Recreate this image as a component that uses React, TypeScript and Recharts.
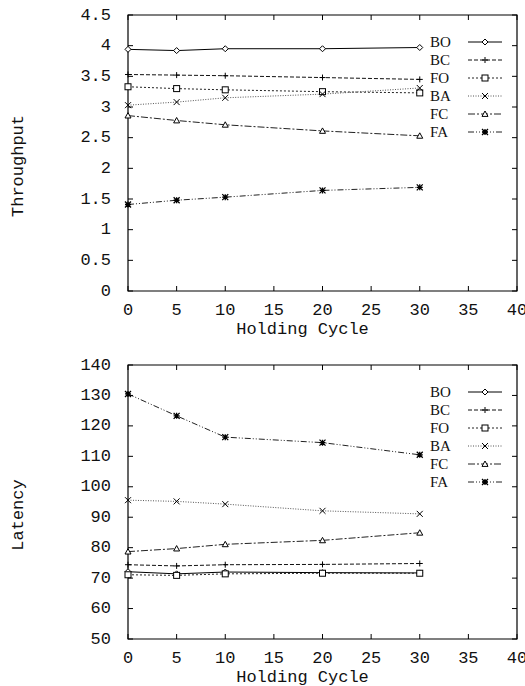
import React from "react";
import { LineChart, Line, XAxis, YAxis, Legend, ReferenceArea, Label } from "recharts";

// x positions (holding cycle) shared by both panels
const holdingCycle = [0, 5, 10, 20, 30];
const cycleTicks = [0, 5, 10, 15, 20, 25, 30, 35, 40];

// throughput per scheme
const throughputBO = [3.94, 3.92, 3.95, 3.95, 3.97];
const throughputBC = [3.53, 3.52, 3.51, 3.48, 3.45];
const throughputFO = [3.33, 3.3, 3.28, 3.25, 3.23];
const throughputBA = [3.03, 3.08, 3.15, 3.21, 3.31];
const throughputFC = [2.86, 2.78, 2.71, 2.61, 2.53];
const throughputFA = [1.41, 1.48, 1.53, 1.64, 1.69];
const throughputTicks = [0, 0.5, 1, 1.5, 2, 2.5, 3, 3.5, 4, 4.5];

// latency per scheme
const latencyBO = [72.1, 71.4, 72.0, 71.8, 71.7];
const latencyBC = [74.4, 74.0, 74.4, 74.5, 74.8];
const latencyFO = [71.1, 70.9, 71.4, 71.6, 71.6];
const latencyBA = [95.6, 95.2, 94.3, 92.1, 91.1];
const latencyFC = [78.7, 79.7, 81.1, 82.4, 84.9];
const latencyFA = [130.5, 123.3, 116.3, 114.5, 110.5];
const latencyTicks = [50, 60, 70, 80, 90, 100, 110, 120, 130, 140];

const schemes = ["BO", "BC", "FO", "BA", "FC", "FA"];

const toRows = (series: number[][]) =>
  holdingCycle.map((cycle, i) => {
    const row: Record<string, number> = { cycle };
    schemes.forEach((s, k) => (row[s] = series[k][i]));
    return row;
  });

const throughputRows = toRows([throughputBO, throughputBC, throughputFO, throughputBA, throughputFC, throughputFA]);
const latencyRows = toRows([latencyBO, latencyBC, latencyFO, latencyBA, latencyFC, latencyFA]);

// gnuplot-like line types / point types
const STYLE: Record<string, { dash?: string; marker: string; color: string }> = {
  BO: { marker: "diamond", color: "#000" },
  BC: { dash: "4 2", marker: "plus", color: "#111" },
  FO: { dash: "2 2", marker: "square", color: "#222" },
  BA: { dash: "1 1.5", marker: "cross", color: "#555" },
  FC: { dash: "7 2 2 2", marker: "triangle", color: "#222" },
  FA: { dash: "6 2 1 2 1 2", marker: "star", color: "#222" },
};

const MONO = "'Liberation Mono', 'DejaVu Sans Mono', monospace";
const FS = 17;
const WIDTH = 525;
const PLOT_LEFT = 128;
const PLOT_RIGHT = 517;
const TICK = 5;

function Marker({ shape, cx, cy }: { shape: string; cx: number; cy: number }) {
  const s = 3;
  const p = { stroke: "#000", strokeWidth: 1, fill: "none" };
  switch (shape) {
    case "diamond":
      return <path d={`M${cx},${cy - s} L${cx + s},${cy} L${cx},${cy + s} L${cx - s},${cy} Z`} {...p} fill="#fff" />;
    case "plus":
      return <path d={`M${cx - s},${cy} H${cx + s} M${cx},${cy - s} V${cy + s}`} {...p} />;
    case "square":
      return <rect x={cx - s} y={cy - s} width={2 * s} height={2 * s} {...p} fill="#fff" />;
    case "cross":
      return <path d={`M${cx - s},${cy - s} L${cx + s},${cy + s} M${cx - s},${cy + s} L${cx + s},${cy - s}`} {...p} />;
    case "triangle":
      return <path d={`M${cx},${cy - s} L${cx + s},${cy + s * 0.8} L${cx - s},${cy + s * 0.8} Z`} {...p} fill="#fff" />;
    default:
      return (
        <path
          d={`M${cx - s},${cy} H${cx + s} M${cx},${cy - s} V${cy + s} M${cx - s},${cy - s} L${cx + s},${cy + s} M${cx - s},${cy + s} L${cx + s},${cy - s}`}
          {...p}
          strokeWidth={1.3}
        />
      );
  }
}

// key drawn in plotting order, not alphabetical
function KeyBox({ payload }: any) {
  const items = (payload || [])
    .filter((e: any) => STYLE[e.value])
    .sort((a: any, b: any) => schemes.indexOf(a.value) - schemes.indexOf(b.value));
  return (
    <svg width={95} height={110} style={{ display: "block" }}>
      {items.map((e: any, i: number) => {
        const y = 9 + i * 18;
        const st = STYLE[e.value];
        return (
          <g key={e.value}>
            <text x={5} y={y} dominantBaseline="central" style={{ fontFamily: "'Liberation Serif', serif", fontSize: 15 }} fill="#111">
              {e.value}
            </text>
            <line x1={43} x2={77} y1={y} y2={y} stroke={st.color} strokeDasharray={st.dash} />
            <Marker shape={st.marker} cx={60} cy={y} />
          </g>
        );
      })}
    </svg>
  );
}

type PanelProps = {
  rows: Record<string, number>[];
  yLabel: string;
  yTicks: number[];
  height: number;
  marginTop: number;
  xAxisHeight: number;
};

function Panel({ rows, yLabel, yTicks, height, marginTop, xAxisHeight }: PanelProps) {
  const plotTop = marginTop;
  const plotBottom = height - xAxisHeight;
  const yMin = yTicks[0];
  const yMax = yTicks[yTicks.length - 1];
  const textStyle = { fontFamily: MONO, fontSize: FS };

  const xTick = ({ x, y, payload }: any) => (
    <g>
      <line x1={x} x2={x} y1={plotBottom} y2={plotBottom - TICK} stroke="#000" />
      <line x1={x} x2={x} y1={plotTop} y2={plotTop + TICK} stroke="#000" />
      <text x={x} y={y + 19} textAnchor="middle" dominantBaseline="central" style={textStyle} fill="#111">
        {payload.value}
      </text>
    </g>
  );

  const yTick = ({ x, y, payload }: any) => (
    <g>
      <line x1={PLOT_LEFT} x2={PLOT_LEFT + TICK} y1={y} y2={y} stroke="#000" />
      <line x1={PLOT_RIGHT} x2={PLOT_RIGHT - TICK} y1={y} y2={y} stroke="#000" />
      <text x={x - 17} y={y} textAnchor="end" dominantBaseline="central" style={textStyle} fill="#111">
        {payload.value}
      </text>
    </g>
  );

  const yTitleY = (plotTop + plotBottom) / 2 + 13;

  return (
    <LineChart
      width={WIDTH}
      height={height}
      data={rows}
      margin={{ top: marginTop, right: WIDTH - PLOT_RIGHT, left: 0, bottom: 0 }}
    >
      <XAxis
        dataKey="cycle"
        type="number"
        domain={[0, 40]}
        ticks={cycleTicks}
        height={xAxisHeight}
        axisLine={false}
        tickLine={false}
        tickSize={0}
        tickMargin={0}
        tick={xTick}
        interval={0}
      >
        <Label
          content={() => (
            <text
              x={(PLOT_LEFT + PLOT_RIGHT) / 2 - 20}
              y={plotBottom + 38}
              textAnchor="middle"
              dominantBaseline="central"
              style={textStyle}
              fill="#111"
            >
              Holding Cycle
            </text>
          )}
        />
      </XAxis>
      <YAxis
        type="number"
        domain={[yMin, yMax]}
        ticks={yTicks}
        width={PLOT_LEFT}
        axisLine={false}
        tickLine={false}
        tickSize={0}
        tickMargin={0}
        tick={yTick}
        interval={0}
      >
        <Label
          content={() => (
            <text
              x={18}
              y={yTitleY}
              transform={`rotate(-90, 18, ${yTitleY})`}
              textAnchor="middle"
              dominantBaseline="central"
              style={textStyle}
              fill="#111"
            >
              {yLabel}
            </text>
          )}
        />
      </YAxis>
      <ReferenceArea x1={0} x2={40} y1={yMin} y2={yMax} fill="none" stroke="#000" strokeWidth={1.2} fillOpacity={0} />
      {schemes.map((s) => (
        <Line
          key={s}
          dataKey={s}
          name={s}
          type="linear"
          stroke={STYLE[s].color}
          strokeWidth={1}
          strokeDasharray={STYLE[s].dash}
          isAnimationActive={false}
          activeDot={false}
          dot={(p: any) => <Marker key={`${s}-${p.index}`} shape={STYLE[s].marker} cx={p.cx} cy={p.cy} />}
        />
      ))}
      <Legend
        layout="vertical"
        align="center"
        verticalAlign="middle"
        wrapperStyle={{ position: "absolute", left: 425, top: plotTop + 18, width: 95 }}
        content={(props: any) => <KeyBox payload={props.payload} />}
      />
    </LineChart>
  );
}

export default function App() {
  return (
    <div style={{ position: "absolute", left: 0, top: 0, width: 525, height: 686, background: "#fff" }}>
      <Panel rows={throughputRows} yLabel="Throughput" yTicks={throughputTicks} height={343} marginTop={15} xAxisHeight={52} />
      <Panel rows={latencyRows} yLabel="Latency" yTicks={latencyTicks} height={343} marginTop={22} xAxisHeight={47} />
    </div>
  );
}
